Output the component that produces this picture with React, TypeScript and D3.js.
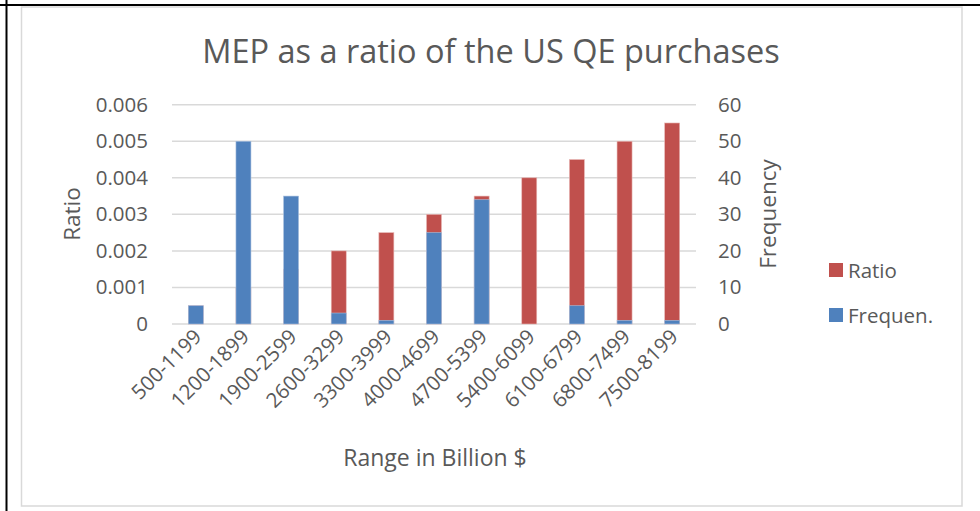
import React from "react";
import * as d3 from "d3";

const categories = ["500-1199","1200-1899","1900-2599","2600-3299","3300-3999","4000-4699","4700-5399","5400-6099","6100-6799","6800-7499","7500-8199"];
const ratioValues = [0.0005,0.001,0.0015,0.002,0.0025,0.003,0.0035,0.004,0.0045,0.005,0.0055];
const frequencyValues = [5,50,35,3,1,25,34,0,5,1,1];
const ratioTicks = [0,0.001,0.002,0.003,0.004,0.005,0.006];
const freqTicks = [0,10,20,30,40,50,60];

const W = 980, H = 511;
const FONT = "'Open Sans', sans-serif";
const TXT = "#595959";
const RED = "#C0504D";
const BLUE = "#4F81BD";

export default function App() {
  const x = d3.scaleBand<string>().domain(categories).range([172, 696]).paddingInner(0.685).paddingOuter(0.3425);
  const yL = d3.scaleLinear().domain([0, 0.006]).range([324, 104.7]);
  const yR = d3.scaleLinear().domain([0, 60]).range([324, 104.7]);
  const bw = x.bandwidth();
  return (
    <svg width={W} height={H} style={{ position: "absolute", left: 0, top: 0, background: "#fff" }} fontFamily={FONT}>
      <rect x={0} y={0} width={W} height={H} fill="#fff" />
      <rect x={21.5} y={7} width={940.5} height={499} fill="#fff" stroke="#D9D9D9" strokeWidth={1.5} />
      <line x1={0} x2={W} y1={5} y2={5} stroke="#000" strokeWidth={2} />
      <line x1={6.5} x2={6.5} y1={0} y2={H} stroke="#000" strokeWidth={2} />
      <text x={491} y={63} textAnchor="middle" fontSize={32.5} fill={TXT}>MEP as a ratio of the US QE purchases</text>
      {ratioTicks.map((t) => (
        <line key={"g" + t} x1={172} x2={696} y1={yL(t)} y2={yL(t)} stroke="#D9D9D9" strokeWidth={1.5} />
      ))}
      {ratioTicks.map((t) => (
        <text key={"l" + t} x={148} y={yL(t) + 7} textAnchor="end" fontSize={20.5} fill={TXT}>{t === 0 ? "0" : t.toFixed(3)}</text>
      ))}
      {freqTicks.map((t) => (
        <text key={"r" + t} x={718} y={yR(t) + 7} textAnchor="start" fontSize={20.5} fill={TXT}>{t}</text>
      ))}
      {categories.map((c, i) => (
        <rect key={"rb" + c} x={x(c)} y={yL(ratioValues[i])} width={bw} height={324 - yL(ratioValues[i])} fill={RED} stroke="#E8B8B6" strokeWidth={0.6} />
      ))}
      {categories.map((c, i) => frequencyValues[i] > 0 ? (
        <rect key={"fb" + c} x={x(c)} y={yR(frequencyValues[i])} width={bw} height={324 - yR(frequencyValues[i])} fill={BLUE} stroke="#A9C0DE" strokeWidth={0.6} />
      ) : null)}
      {categories.map((c) => {
        const cx = (x(c) as number) + bw / 2 + 7;
        return (
          <text key={"xl" + c} x={cx} y={338} transform={`rotate(-45 ${cx} 338)`} textAnchor="end" fontSize={20.5} fill={TXT}>{c}</text>
        );
      })}
      <text x={435} y={466} textAnchor="middle" fontSize={23} fill={TXT}>Range in Billion $</text>
      <text transform={`translate(80 214) rotate(-90)`} textAnchor="middle" fontSize={22.5} fill={TXT}>Ratio</text>
      <text transform={`translate(776 214) rotate(-90)`} textAnchor="middle" fontSize={22.5} fill={TXT}>Frequency</text>
      <rect x={829} y={263} width={14} height={14} fill={RED} />
      <text x={848} y={278} fontSize={20.5} fill={TXT}>Ratio</text>
      <rect x={829} y={308} width={14} height={14} fill={BLUE} />
      <text x={848} y={323} fontSize={20.5} fill={TXT}>Frequen.</text>
    </svg>
  );
}
